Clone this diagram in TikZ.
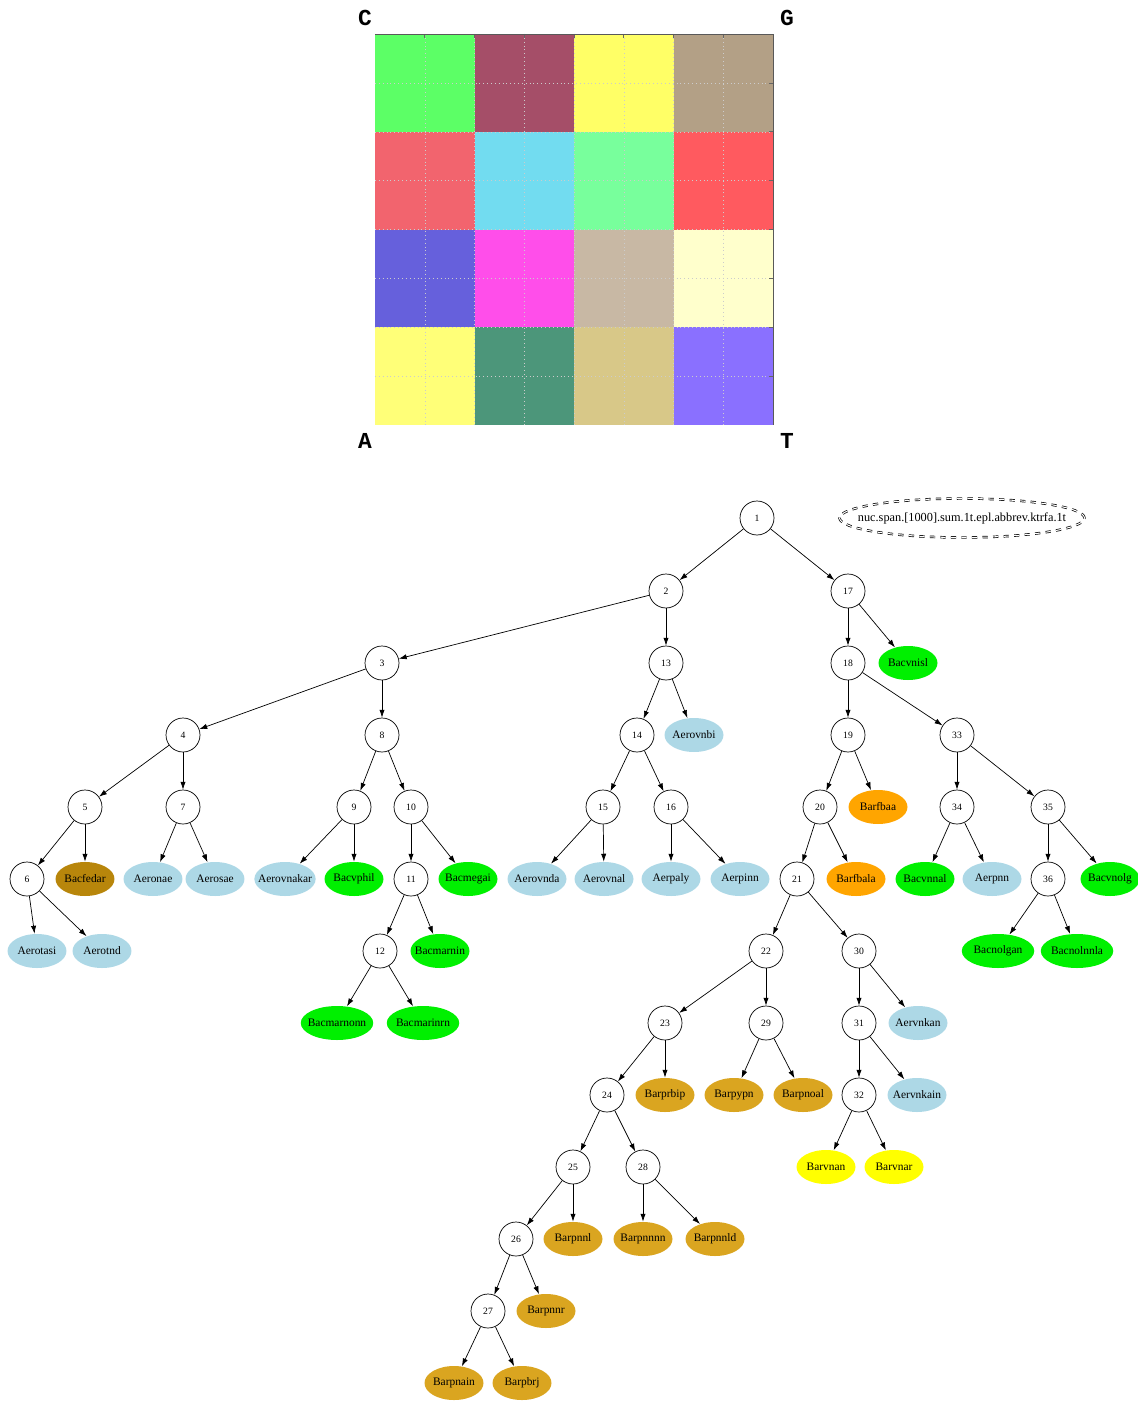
\documentclass[tikz,border=0pt]{standalone}
\usepackage{fontspec}
\usepackage{tikz}
\usetikzlibrary{shapes.geometric,arrows.meta}
\newfontfamily\cornerfont{Liberation Mono}
\newfontfamily\leaffont{Liberation Serif}
% couleurs de la grille
\definecolor{gA}{RGB}{92,255,102}
\definecolor{gB}{RGB}{165,78,104}
\definecolor{gC}{RGB}{255,255,102}
\definecolor{gD}{RGB}{179,160,134}
\definecolor{gE}{RGB}{242,100,110}
\definecolor{gF}{RGB}{114,220,240}
\definecolor{gG}{RGB}{120,255,156}
\definecolor{gH}{RGB}{255,90,95}
\definecolor{gI}{RGB}{102,96,220}
\definecolor{gJ}{RGB}{255,78,234}
\definecolor{gK}{RGB}{200,184,164}
\definecolor{gL}{RGB}{255,255,204}
\definecolor{gM}{RGB}{255,255,120}
\definecolor{gN}{RGB}{76,150,122}
\definecolor{gO}{RGB}{216,200,136}
\definecolor{gP}{RGB}{138,112,255}
% couleurs des feuilles
\definecolor{lb}{RGB}{173,216,230}
\definecolor{gr}{RGB}{0,240,0}
\definecolor{og}{RGB}{255,165,0}
\definecolor{gd}{RGB}{218,165,32}
\definecolor{dg}{RGB}{184,134,11}
\definecolor{ye}{RGB}{255,255,0}
\tikzset{
  nd/.style={circle,draw,thin,minimum size=0.68cm,inner sep=0pt,font=\leaffont\fontsize{5.5}{6}\selectfont},
  lf/.style={ellipse,fill=#1,minimum height=0.68cm,minimum width=1.18cm,inner xsep=-3pt,font=\leaffont\fontsize{6.5}{7}\selectfont},
  wd/.style={minimum width=1.45cm},
  ar/.style={-{Latex[length=4.5pt,width=3pt]},thin},
  crn/.style={font=\cornerfont\bfseries\fontsize{13}{14}\selectfont}
}
\begin{document}
\begin{tikzpicture}[x=0.02cm,y=-0.02cm]
\useasboundingbox (0,0) rectangle (1137,1402);
% grille
\foreach \i/\j/\c in {0/0/gA,1/0/gB,2/0/gC,3/0/gD,0/1/gE,1/1/gF,2/1/gG,3/1/gH,
                      0/2/gI,1/2/gJ,2/2/gK,3/2/gL,0/3/gM,1/3/gN,2/3/gO,3/3/gP}
  \fill[fill=\c]({375+\i*99.5},{34+\j*97.75})rectangle +(99.5,97.75);
\foreach \k in {1,...,7}{
  \draw[gray!40,dotted,very thin]({375+\k*49.75},34)--({375+\k*49.75},425);
  \draw[gray!40,dotted,very thin](375,{34+\k*48.875})--(773,{34+\k*48.875});
  \draw[gray!80!black,thin]({375+\k*49.75},34)--({375+\k*49.75},38);
  \draw[gray!80!black,thin](773,{34+\k*48.875})--(769,{34+\k*48.875});
}
\draw[gray!70!black,thin](375,34)--(773,34)--(773,425);
\node[crn] (C) at (365,18) {C};
\node[crn] (G) at (787,18) {G};
\node[crn] (A) at (365,441) {A};
\node[crn] (T) at (787,441) {T};
% arbre
\node[ellipse,draw,double,dashed,minimum width=4.9cm,minimum height=0.78cm,inner xsep=-40pt,inner ysep=0pt,
      font=\leaffont\fontsize{7}{8}\selectfont] (ttl) at (962,518) {nuc.span.[1000].sum.1t.epl.abbrev.ktrfa.1t};
\node[nd] (n1) at (757,518) {1};
\node[nd] (n2) at (666,591) {2};
\node[nd] (n17) at (848,591) {17};
\node[nd] (n3) at (382,663) {3};
\node[nd] (n13) at (666,663) {13};
\node[nd] (n18) at (848,663) {18};
\node[lf=gr] (l17) at (908,663) {Bacvnisl};
\node[nd] (n4) at (183,735) {4};
\node[nd] (n8) at (382,735) {8};
\node[nd] (n14) at (637,735) {14};
\node[lf=lb] (l13) at (694,735) {Aerovnbi};
\node[nd] (n19) at (848,735) {19};
\node[nd] (n33) at (957,735) {33};
\node[nd] (n5) at (85,807) {5};
\node[nd] (n7) at (183,807) {7};
\node[nd] (n9) at (354,807) {9};
\node[nd] (n10) at (411,807) {10};
\node[nd] (n15) at (603,807) {15};
\node[nd] (n16) at (671,807) {16};
\node[nd] (n20) at (820,807) {20};
\node[lf=og] (l19) at (878,807) {Barfbaa};
\node[nd] (n34) at (957,807) {34};
\node[nd] (n35) at (1048,807) {35};
\node[nd] (n6) at (27,879) {6};
\node[lf=dg] (l5) at (85,879) {Bacfedar};
\node[lf=lb] (l7a) at (153,879) {Aeronae};
\node[lf=lb] (l7b) at (215,879) {Aerosae};
\node[lf=lb] (l9a) at (285,879) {Aerovnakar};
\node[lf=gr] (l9b) at (354,879) {Bacvphil};
\node[nd] (n11) at (411,879) {11};
\node[lf=gr] (l10) at (468,879) {Bacmegai};
\node[lf=lb] (l15a) at (537,879) {Aerovnda};
\node[lf=lb] (l15b) at (604,879) {Aerovnal};
\node[lf=lb] (l16a) at (671,879) {Aerpaly};
\node[lf=lb] (l16b) at (740,879) {Aerpinn};
\node[nd] (n21) at (797,879) {21};
\node[lf=og] (l20) at (856,879) {Barfbala};
\node[lf=gr] (l34a) at (925,879) {Bacvnnal};
\node[lf=lb] (l34b) at (992,879) {Aerpnn};
\node[nd] (n36) at (1048,879) {36};
\node[lf=gr] (l35) at (1110,879) {Bacvnolg};
\node[lf=lb] (l6a) at (37,951) {Aerotasi};
\node[lf=lb] (l6b) at (102,951) {Aerotnd};
\node[nd] (n12) at (380,951) {12};
\node[lf=gr] (l11) at (440,951) {Bacmarnin};
\node[nd] (n22) at (766,951) {22};
\node[nd] (n30) at (859,951) {30};
\node[lf=gr,wd] (l36a) at (998,951) {Bacnolgan};
\node[lf=gr,wd] (l36b) at (1077,951) {Bacnolnnla};
\node[lf=gr,wd] (l12a) at (337,1023) {Bacmarnonn};
\node[lf=gr,wd] (l12b) at (423,1023) {Bacmarinrn};
\node[nd] (n23) at (665,1023) {23};
\node[nd] (n29) at (766,1023) {29};
\node[nd] (n31) at (859,1023) {31};
\node[lf=lb] (l30) at (918,1023) {Aervnkan};
\node[nd] (n24) at (607,1095) {24};
\node[lf=gd] (l23) at (665,1095) {Barprbip};
\node[lf=gd] (l29a) at (734,1095) {Barpypn};
\node[lf=gd] (l29b) at (803,1095) {Barpnoal};
\node[nd] (n32) at (859,1095) {32};
\node[lf=lb] (l31) at (917,1095) {Aervnkain};
\node[nd] (n25) at (573,1167) {25};
\node[nd] (n28) at (643,1167) {28};
\node[lf=ye] (l32a) at (826,1167) {Barvnan};
\node[lf=ye] (l32b) at (894,1167) {Barvnar};
\node[nd] (n26) at (516,1239) {26};
\node[lf=gd] (l25) at (573,1239) {Barpnnl};
\node[lf=gd] (l28a) at (643,1239) {Barpnnnn};
\node[lf=gd] (l28b) at (715,1239) {Barpnnld};
\node[nd] (n27) at (488,1311) {27};
\node[lf=gd] (l26) at (546,1311) {Barpnnr};
\node[lf=gd] (l27a) at (454,1383) {Barpnain};
\node[lf=gd] (l27b) at (522,1383) {Barpbrj};
\foreach \a/\b in {n1/n2,n1/n17,n2/n3,n2/n13,n3/n4,n3/n8,n4/n5,n4/n7,n5/n6,n5/l5,
  n6/l6a,n6/l6b,n7/l7a,n7/l7b,n8/n9,n8/n10,n9/l9a,n9/l9b,n10/n11,n10/l10,
  n11/n12,n11/l11,n12/l12a,n12/l12b,n13/n14,n13/l13,n14/n15,n14/n16,
  n15/l15a,n15/l15b,n16/l16a,n16/l16b,n17/n18,n17/l17,n18/n19,n18/n33,
  n19/n20,n19/l19,n20/n21,n20/l20,n21/n22,n21/n30,n22/n23,n22/n29,
  n23/n24,n23/l23,n24/n25,n24/n28,n25/n26,n25/l25,n26/n27,n26/l26,
  n27/l27a,n27/l27b,n28/l28a,n28/l28b,n29/l29a,n29/l29b,n30/n31,n30/l30,
  n31/n32,n31/l31,n32/l32a,n32/l32b,n33/n34,n33/n35,n34/l34a,n34/l34b,
  n35/n36,n35/l35,n36/l36a,n36/l36b}
  \draw[ar](\a)--(\b);
\end{tikzpicture}
\end{document}
